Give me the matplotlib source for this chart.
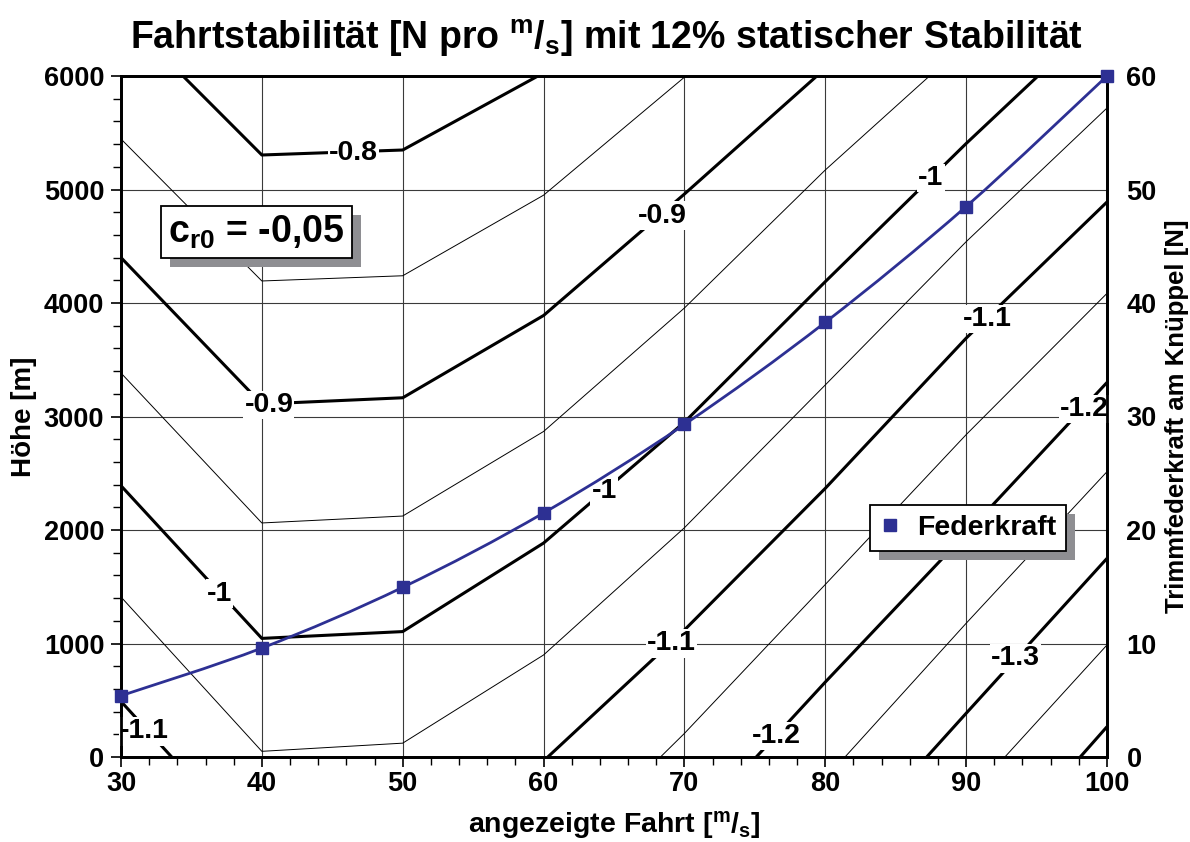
import matplotlib
matplotlib.use('Agg')
import matplotlib.pyplot as plt
import numpy as np
from matplotlib.path import Path
from matplotlib.patches import PathPatch, Rectangle
from matplotlib.lines import Line2D
from matplotlib.transforms import IdentityTransform
from matplotlib.ticker import MultipleLocator

plt.rcParams['font.family'] = ['Liberation Sans', 'DejaVu Sans']
plt.rcParams['font.weight'] = 'bold'
plt.rcParams['mathtext.fontset'] = 'custom'
for k in ('rm', 'it', 'bf', 'sf'):
    plt.rcParams['mathtext.' + k] = 'Liberation Sans:bold'

# ---------------- data ----------------
# contour lines of "Fahrtstabilität" (speed [m/s], height [m])
c080_x = [34.4, 40, 50, 59.6]
c080_h = [6000, 5304, 5348, 6000]
c085_x = [30, 40, 50, 60, 70.1]
c085_h = [5445, 4194, 4240, 4950, 6000]
c090_x = [30, 40, 50, 60, 70, 79.4]
c090_h = [4400, 3110, 3165, 3890, 4960, 6000]
c095_x = [30, 40, 50, 60, 70, 80, 87.4]
c095_h = [3383, 2062, 2123, 2868, 3956, 5172, 6000]
c100_x = [30, 40, 50, 60, 70, 80, 90, 95.1]
c100_h = [2390, 1045, 1105, 1885, 2950, 4188, 5405, 6000]
c105_x = [30, 40, 50, 60, 70, 80, 90, 100]
c105_h = [1410, 50, 122, 899, 2020, 3278, 4540, 5718]
c110a_x = [30, 33.6]
c110a_h = [490, 0]
c110b_x = [60.3, 70, 80, 90, 100]
c110b_h = [0, 1119, 2367, 3690, 4890]
c115_x = [68.3, 70, 80, 90, 100]
c115_h = [0, 208, 1520, 2840, 4085]
c120_x = [75.1, 80, 90, 100]
c120_h = [0, 660, 1970, 3300]
c125_x = [81.4, 90, 100]
c125_h = [0, 1178, 2514]
c130_x = [87.2, 90, 100]
c130_h = [0, 385, 1750]
c135_x = [92.75, 100]
c135_h = [0, 987]
c140_x = [98.1, 100]
c140_h = [0, 267]

thick_lines = [(c080_x, c080_h), (c090_x, c090_h), (c100_x, c100_h),
               (c110a_x, c110a_h), (c110b_x, c110b_h), (c120_x, c120_h),
               (c130_x, c130_h), (c140_x, c140_h)]
thin_lines = [(c085_x, c085_h), (c095_x, c095_h), (c105_x, c105_h),
              (c115_x, c115_h), (c125_x, c125_h), (c135_x, c135_h)]

# contour labels
label_text = ['-0.8', '-0.9', '-0.9', '-1', '-1', '-1', '-1.1', '-1.1', '-1.1',
              '-1.2', '-1.2', '-1.3']
label_x = [46.5, 68.4, 40.5, 37.0, 64.3, 87.5, 31.65, 69.1, 91.5, 76.5, 98.4, 93.5]
label_h = [5320, 4770, 3100, 1440, 2340, 5100, 225, 1000, 3860, 185, 3066, 868]

# Federkraft series (right axis, N)
speed = [30, 40, 50, 60, 70, 80, 90, 100]
federkraft = [5.4, 9.6, 14.95, 21.5, 29.3, 38.3, 48.5, 60.0]

navy = '#2d3093'

# ---------------- figure ----------------
fig = plt.figure(figsize=(11.9, 8.42), dpi=100)
ax = fig.add_axes([121 / 1190, 85 / 842, 986 / 1190, 681 / 842])
ax.set_xlim(30, 100)
ax.set_ylim(0, 6000)
ax.xaxis.set_major_locator(MultipleLocator(10))
ax.xaxis.set_minor_locator(MultipleLocator(2))
ax.yaxis.set_major_locator(MultipleLocator(1000))
ax.yaxis.set_minor_locator(MultipleLocator(200))
ax.grid(True, which='major', color='#3a3a3a', linewidth=0.8, zorder=0)
ax.set_axisbelow(True)
for s in ax.spines.values():
    s.set_linewidth(2.0)
ax.tick_params(axis='both', which='major', direction='out', length=7, width=1.2,
               labelsize=19.5)
ax.tick_params(axis='both', which='minor', direction='out', length=6, width=1.0)
ax.tick_params(axis='y', pad=5)
ax.tick_params(axis='x', pad=3)
ax.tick_params(axis='y', which='both', right=False)

for xs, hs in thin_lines:
    ax.plot(xs, hs, color='black', linewidth=0.7, zorder=2, solid_capstyle='butt')
for xs, hs in thick_lines:
    ax.plot(xs, hs, color='black', linewidth=2.2, zorder=3, solid_capstyle='butt')

for t, x, h in zip(label_text, label_x, label_h):
    ax.text(x, h, t, fontsize=20.5, fontweight='bold', ha='center', va='center',
            zorder=4, bbox=dict(facecolor='white', edgecolor='none', pad=0.8))

ax.set_xlabel(r'angezeigte Fahrt [$^{\mathrm{m}}/_{\mathrm{s}}$]', fontsize=20.5,
              fontweight='bold', labelpad=9)
ax.set_ylabel('Höhe [m]', fontsize=20, fontweight='bold', labelpad=5)

# right axis with Federkraft
ax2 = ax.twinx()
ax2.set_ylim(0, 60)
ax2.yaxis.set_major_locator(MultipleLocator(10))
ax2.tick_params(axis='y', length=0, pad=14, labelsize=19.5)
for s in ax2.spines.values():
    s.set_linewidth(2.0)
ax2.set_ylabel('Trimmfederkraft am Knüppel [N]', fontsize=18.5, fontweight='bold',
               labelpad=6)


def smooth_path(xs, ys):
    pts = np.column_stack([xs, ys]).astype(float)
    n = len(pts)
    verts = [pts[0]]
    codes = [Path.MOVETO]
    for i in range(n - 1):
        p0 = pts[max(i - 1, 0)]
        p1 = pts[i]
        p2 = pts[i + 1]
        p3 = pts[min(i + 2, n - 1)]
        verts += [p1 + (p2 - p0) / 6.0, p2 - (p3 - p1) / 6.0, p2]
        codes += [Path.CURVE4] * 3
    return Path(verts, codes)


ax2.add_patch(PathPatch(smooth_path(speed, federkraft), facecolor='none',
                        edgecolor=navy, linewidth=2.0, zorder=5, clip_on=False))
ax2.plot(speed, federkraft, 's', color=navy, markersize=8.5, zorder=6, clip_on=False)

handle = Line2D([], [], marker='s', linestyle='none', color=navy, markersize=8)
leg = ax2.legend([handle], ['Federkraft'], loc='upper left',
                 bbox_to_anchor=(0.7596, 0.370), borderaxespad=0,
                 fancybox=False, framealpha=1, edgecolor='black',
                 fontsize=20.5, handlelength=0.7, handletextpad=0.6,
                 borderpad=0.35)
leg.get_frame().set_linewidth(1.3)
leg.set_zorder(10)

txt = ax2.text(0.0477, 0.771, r'c$_{\mathrm{r0}}$ = -0,05', transform=ax2.transAxes,
               fontsize=27, fontweight='bold', ha='left', va='center', zorder=10,
               bbox=dict(facecolor='white', edgecolor='black', linewidth=1.3,
                         boxstyle='square,pad=0.2'))

fig.text(0.51, 0.955, r'Fahrtstabilität [N pro $^{\mathrm{m}}/_{\mathrm{s}}$] mit 12% statischer Stabilität',
         ha='center', va='center', fontsize=27, fontweight='bold')

# shadows behind legend and text box
fig.canvas.draw()
r = fig.canvas.get_renderer()
for bb in (leg.get_frame().get_window_extent(r), txt.get_bbox_patch().get_window_extent(r)):
    ax2.add_patch(Rectangle((bb.x0 + 9, bb.y0 - 9), bb.width, bb.height,
                            transform=IdentityTransform(), facecolor='#8e8e92',
                            edgecolor='none', zorder=9, clip_on=False))

fig.savefig('out.png', dpi=100)
